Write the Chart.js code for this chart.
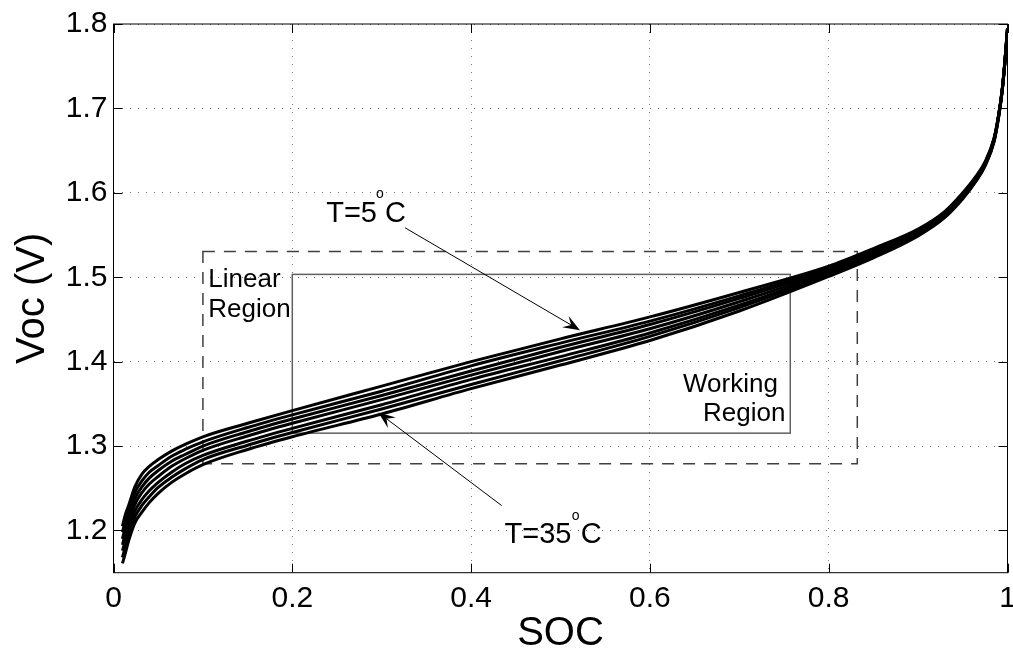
<!DOCTYPE html>
<html>
<head>
<meta charset="utf-8">
<script src="https://cdn.jsdelivr.net/npm/chart.js@4.4.1/dist/chart.umd.min.js"></script>
<style>
  html, body { margin: 0; padding: 0; background: #fff; }
</style>
</head>
<body>
<canvas id="voc_chart" width="1013" height="654"></canvas>
<script>
        // SOC sample points shared by all curves
        const soc = [0.01, 0.013, 0.017, 0.024, 0.032, 0.04, 0.05, 0.065, 0.08, 0.1, 0.15, 0.2, 0.3, 0.4, 0.5,
                     0.6, 0.7, 0.8, 0.85, 0.9, 0.93, 0.95, 0.965, 0.975, 0.985, 0.99, 0.994, 0.997, 1.0];

        // Open circuit voltage (V) per temperature
        const voc5  = [1.205, 1.218, 1.230, 1.252, 1.267, 1.276, 1.284, 1.294, 1.302, 1.311, 1.327, 1.342, 1.371, 1.400, 1.427,
                       1.453, 1.482, 1.513, 1.534, 1.557, 1.578, 1.600, 1.620, 1.637, 1.665, 1.692, 1.722, 1.755, 1.795];
        const voc10 = [1.198, 1.210, 1.223, 1.245, 1.259, 1.269, 1.277, 1.288, 1.296, 1.305, 1.322, 1.337, 1.365, 1.395, 1.422,
                       1.448, 1.478, 1.511, 1.532, 1.556, 1.577, 1.599, 1.619, 1.636, 1.664, 1.692, 1.722, 1.755, 1.795];
        const voc15 = [1.190, 1.203, 1.216, 1.238, 1.252, 1.262, 1.271, 1.282, 1.290, 1.300, 1.317, 1.332, 1.360, 1.389, 1.417,
                       1.444, 1.475, 1.509, 1.530, 1.554, 1.576, 1.598, 1.618, 1.635, 1.664, 1.691, 1.721, 1.754, 1.795];
        const voc20 = [1.183, 1.195, 1.209, 1.231, 1.245, 1.255, 1.264, 1.276, 1.285, 1.295, 1.312, 1.327, 1.355, 1.384, 1.412,
                       1.439, 1.471, 1.507, 1.529, 1.553, 1.575, 1.597, 1.617, 1.635, 1.663, 1.691, 1.721, 1.754, 1.794];
        const voc25 = [1.176, 1.187, 1.202, 1.223, 1.237, 1.247, 1.257, 1.269, 1.279, 1.289, 1.306, 1.321, 1.349, 1.379, 1.406,
                       1.434, 1.467, 1.505, 1.527, 1.552, 1.573, 1.595, 1.616, 1.634, 1.662, 1.690, 1.721, 1.754, 1.794];
        const voc30 = [1.168, 1.180, 1.195, 1.216, 1.230, 1.240, 1.251, 1.263, 1.273, 1.284, 1.301, 1.316, 1.344, 1.373, 1.401,
                       1.430, 1.464, 1.503, 1.525, 1.550, 1.572, 1.594, 1.615, 1.633, 1.661, 1.690, 1.720, 1.753, 1.793];
        const voc35 = [1.161, 1.172, 1.188, 1.209, 1.222, 1.233, 1.244, 1.257, 1.267, 1.278, 1.296, 1.311, 1.338, 1.368, 1.396,
                       1.425, 1.460, 1.501, 1.523, 1.549, 1.571, 1.593, 1.614, 1.632, 1.661, 1.689, 1.720, 1.753, 1.793];

        const temps = ['5', '10', '15', '20', '25', '30', '35'];
        const vocSeries = [voc5, voc10, voc15, voc20, voc25, voc30, voc35];

        // Tick labels
        const xTicks = [0, 0.2, 0.4, 0.6, 0.8, 1];
        const yTicks = [1.2, 1.3, 1.4, 1.5, 1.6, 1.7, 1.8];

        // Region boxes (SOC range, Voc range)
        const linearBox = { soc: [0.1, 0.832], voc: [1.279, 1.5306] };
        const workingBox = { soc: [0.2, 0.757], voc: [1.3153, 1.5034] };

        const FONT = '"Liberation Sans", Arial, Helvetica, sans-serif';

        const datasets = vocSeries.map((vals, i) => ({
            label: 'T=' + temps[i] + '°C',
            data: soc.map((s, j) => ({ x: s, y: vals[j] })),
            borderColor: '#000',
            borderWidth: 3,
            pointRadius: 0,
            cubicInterpolationMode: 'monotone',
            fill: false
        }));

        function arrow(ctx, x1, y1, x2, y2) {
            const dx = x2 - x1, dy = y2 - y1;
            const len = Math.hypot(dx, dy);
            const ux = dx / len, uy = dy / len;
            const nx = -uy, ny = ux;
            const L = 17, W = 13;
            ctx.beginPath();
            ctx.moveTo(x1, y1);
            ctx.lineTo(x2 - ux * L * 0.6, y2 - uy * L * 0.6);
            ctx.stroke();
            ctx.beginPath();
            ctx.moveTo(x2, y2);
            ctx.lineTo(x2 - ux * L + nx * W / 2, y2 - uy * L + ny * W / 2);
            ctx.lineTo(x2 - ux * L * 0.6, y2 - uy * L * 0.6);
            ctx.lineTo(x2 - ux * L - nx * W / 2, y2 - uy * L - ny * W / 2);
            ctx.closePath();
            ctx.fill();
        }

        function rect(ctx, xs, ys, box) {
            const l = xs.getPixelForValue(box.soc[0]), r = xs.getPixelForValue(box.soc[1]);
            const t = ys.getPixelForValue(box.voc[1]), b = ys.getPixelForValue(box.voc[0]);
            ctx.strokeRect(l, t, r - l, b - t);
        }

        // boxes under the curves, frame/ticks/labels on top (matlab look)
        const matlabDecor = {
            id: 'matlabDecor',
            beforeDatasetsDraw(chart) {
                const ctx = chart.ctx, xs = chart.scales.x, ys = chart.scales.y;
                ctx.save();
                ctx.lineWidth = 1.5;
                ctx.strokeStyle = '#404040';
                ctx.setLineDash([12, 9]);
                rect(ctx, xs, ys, linearBox);
                ctx.setLineDash([]);
                ctx.strokeStyle = '#606060';
                rect(ctx, xs, ys, workingBox);
                ctx.restore();
            },
            afterDatasetsDraw(chart) {
                const ctx = chart.ctx, xs = chart.scales.x, ys = chart.scales.y;
                const a = chart.chartArea;
                const px = v => xs.getPixelForValue(v), py = v => ys.getPixelForValue(v);
                ctx.save();
                // axes box + inward ticks
                ctx.strokeStyle = '#000';
                ctx.lineWidth = 1;
                ctx.strokeRect(a.left, a.top, a.right - a.left, a.bottom - a.top);
                ctx.beginPath();
                xTicks.forEach(v => {
                    const x = Math.round(px(v)) + 0.5;
                    ctx.moveTo(x, a.bottom); ctx.lineTo(x, a.bottom - 9);
                    ctx.moveTo(x, a.top); ctx.lineTo(x, a.top + 9);
                });
                yTicks.forEach(v => {
                    const y = Math.round(py(v)) + 0.5;
                    ctx.moveTo(a.left, y); ctx.lineTo(a.left + 9, y);
                    ctx.moveTo(a.right, y); ctx.lineTo(a.right - 9, y);
                });
                ctx.stroke();

                // arrows
                ctx.fillStyle = '#000';
                ctx.lineWidth = 1;
                arrow(ctx, px(0.3261), py(1.5586), px(0.5218), py(1.4373));
                arrow(ctx, px(0.4342), py(1.2295), px(0.2962), py(1.3397));

                // text
                ctx.textBaseline = 'alphabetic';
                ctx.font = '26px ' + FONT;
                ctx.textAlign = 'left';
                ctx.fillText('Linear', px(0.106), py(1.4884));
                ctx.fillText('Region', px(0.106), py(1.4530));
                ctx.fillText('Working', px(0.637), py(1.364));
                ctx.fillText('Region', px(0.6594), py(1.330));

                ctx.font = '29px ' + FONT;
                ctx.textAlign = 'right';
                ctx.fillText('T=5', px(0.2947), py(1.5652));
                ctx.fillText('T=35', px(0.5123), py(1.1847));
                ctx.textAlign = 'left';
                ctx.fillText('C', px(0.3037), py(1.5652));
                ctx.fillText('C', px(0.5226), py(1.1847));
                ctx.font = '14px ' + FONT;
                ctx.textAlign = 'center';
                ctx.textBaseline = 'middle';
                ctx.fillText('o', px(0.2981), py(1.5979));
                ctx.fillText('o', px(0.5168), py(1.2169));
                ctx.restore();
            }
        };

        const config = {
            type: 'line',
            data: { datasets: datasets },
            options: {
                responsive: false,
                devicePixelRatio: 1,
                animation: false,
                layout: { padding: { top: 24, right: 5.5, left: 0, bottom: 0 } },
                plugins: {
                    legend: { display: false },
                    tooltip: { enabled: false }
                },
                scales: {
                    x: {
                        type: 'linear',
                        min: 0,
                        max: 1,
                        afterBuildTicks: s => { s.ticks = xTicks.map(v => ({ value: v })); },
                        afterFit: s => { s.height = 81.3; s.paddingLeft = 0; s.paddingRight = 0; },
                        ticks: {
                            color: '#000',
                            font: { family: FONT, size: 30 },
                            padding: 8,
                            maxRotation: 0,
                            autoSkip: false,
                            callback: v => String(v)
                        },
                        grid: { color: '#7a7a7a', lineWidth: 1, drawTicks: false },
                        border: { display: false, dash: [1, 7] },
                        title: {
                            display: true,
                            text: 'SOC',
                            color: '#000',
                            font: { family: FONT, size: 40, lineHeight: 1 },
                            padding: { top: 0, bottom: 0 }
                        }
                    },
                    y: {
                        type: 'linear',
                        min: 1.15,
                        max: 1.8,
                        afterBuildTicks: s => { s.ticks = yTicks.map(v => ({ value: v })); },
                        afterFit: s => { s.width = 113.5; s.paddingTop = 0; s.paddingBottom = 0; },
                        ticks: {
                            color: '#000',
                            font: { family: FONT, size: 30 },
                            padding: 6,
                            callback: v => v.toFixed(1)
                        },
                        grid: { color: '#7a7a7a', lineWidth: 1, drawTicks: false },
                        border: { display: false, dash: [1, 7] },
                        title: {
                            display: true,
                            text: 'Voc (V)',
                            color: '#000',
                            font: { family: FONT, size: 40, lineHeight: 1 },
                            padding: { top: 13, bottom: 0 }
                        }
                    }
                }
            },
            plugins: [matlabDecor]
        };

        const voc_chart = new Chart(document.getElementById('voc_chart'), config);
</script>
</body>
</html>
